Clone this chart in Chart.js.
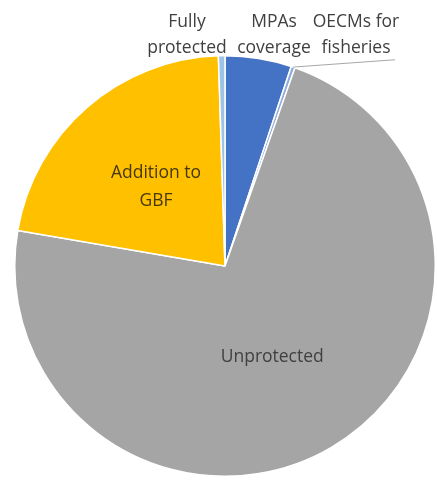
<!DOCTYPE html>
<html>
<head>
<meta charset="utf-8">
<script src="https://cdn.jsdelivr.net/npm/chart.js@4"></script>
<style>
  html, body { margin: 0; padding: 0; background: #fff; }
</style>
</head>
<body>
<canvas id="pie" width="437" height="480"></canvas>
<script>
// slices in clockwise order starting at 12 o'clock
const labels = ["MPAs coverage", "OECMs for fisheries", "Unprotected", "Addition to GBF", "Fully protected"];
const shares = [5.1, 0.3, 72.3, 21.8, 0.5];
const colors = ["#4472C4", "#8FAADC", "#A5A5A5", "#FFC000", "#9DC3E6"];

// label text lines, per slice
const labelLines = [
  ["MPAs", "coverage"],
  ["OECMs for", "fisheries"],
  ["Unprotected"],
  ["Addition to", "GBF"],
  ["Fully", "protected"]
];

const FONT = "17.5px 'Open Sans', 'Noto Sans', sans-serif";

const labelPlugin = {
  id: "sliceLabels",
  afterDatasetsDraw(chart) {
    const ctx = chart.ctx;
    const arcs = chart.getDatasetMeta(0).data;
    const cx = arcs[0].x, cy = arcs[0].y, r = arcs[0].outerRadius;
    ctx.save();
    ctx.font = FONT;
    ctx.textAlign = "center";
    ctx.textBaseline = "middle";
    const lh = 28;

    // inside labels
    [3, 2].forEach((i) => {
      const p = arcs[i].tooltipPosition();
      const lines = labelLines[i];
      ctx.fillStyle = i === 3 ? "#46370c" : "#404040";
      const y0 = p.y - (lines.length - 1) * lh / 2;
      lines.forEach((t, k) => ctx.fillText(t, p.x + (i === 2 ? -6 : 0), y0 + k * lh));
    });

    // outside labels above the top of the pie
    ctx.fillStyle = "#404040";
    const outside = [
      { i: 4, x: cx - 38 },
      { i: 0, x: cx + 49 },
      { i: 1, x: cx + 131 }
    ];
    const top = cy - r;
    outside.forEach((o) => {
      labelLines[o.i].forEach((t, k) => ctx.fillText(t, o.x, top - 34 + k * 26));
    });

    // leader line for the thin OECM slice
    const a = arcs[1];
    const mid = (a.startAngle + a.endAngle) / 2;
    const ex = cx + r * Math.cos(mid), ey = cy + r * Math.sin(mid);
    ctx.strokeStyle = "#a6a6a6";
    ctx.lineWidth = 1;
    ctx.beginPath();
    ctx.moveTo(ex, ey);
    ctx.lineTo(cx + 170, top + 4);
    ctx.stroke();
    ctx.restore();
  }
};

new Chart(document.getElementById("pie"), {
  type: "pie",
  data: {
    labels: labels,
    datasets: [{
      data: shares,
      backgroundColor: colors,
      borderColor: "#ffffff",
      borderWidth: 1.5
    }]
  },
  options: {
    responsive: false,
    animation: false,
    layout: { padding: { left: 14, right: 1, top: 55, bottom: 3 } },
    plugins: {
      legend: { display: false },
      tooltip: { enabled: false }
    }
  },
  plugins: [labelPlugin]
});
</script>
</body>
</html>
